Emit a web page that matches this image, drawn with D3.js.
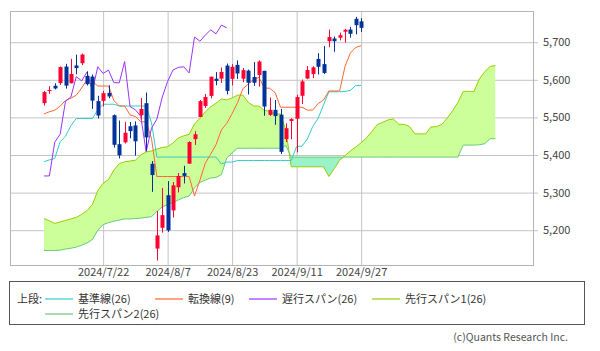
<!DOCTYPE html>
<html>
<head>
<meta charset="utf-8">
<script src="https://cdn.jsdelivr.net/npm/d3@7"></script>
<style>
  body { margin: 0; background: #fff; }
  text { font-family: "Noto Sans CJK JP", "Noto Sans", sans-serif; fill: #333; }
</style>
</head>
<body>
<svg id="chart" width="600" height="351"></svg>
<script>
// daily candles 2024/7/5 - 2024/9/27
const dates = ["2024/7/5","2024/7/8","2024/7/9","2024/7/10","2024/7/11","2024/7/12","2024/7/15","2024/7/16","2024/7/17","2024/7/18",
  "2024/7/19","2024/7/22","2024/7/23","2024/7/24","2024/7/25","2024/7/26","2024/7/29","2024/7/30","2024/7/31","2024/8/1",
  "2024/8/2","2024/8/5","2024/8/6","2024/8/7","2024/8/8","2024/8/9","2024/8/12","2024/8/13","2024/8/14","2024/8/15",
  "2024/8/16","2024/8/19","2024/8/20","2024/8/21","2024/8/22","2024/8/23","2024/8/26","2024/8/27","2024/8/28","2024/8/29",
  "2024/8/30","2024/9/3","2024/9/4","2024/9/5","2024/9/6","2024/9/9","2024/9/10","2024/9/11","2024/9/12","2024/9/13",
  "2024/9/16","2024/9/17","2024/9/18","2024/9/19","2024/9/20","2024/9/23","2024/9/24","2024/9/25","2024/9/26","2024/9/27"];
const opens = [5537.9,5572.8,5584.2,5591.3,5635.2,5590.8,5638.2,5644.1,5610.1,5608.6,
  5543.4,5544.0,5565.3,5505.8,5428.7,5433.7,5476.6,5478.7,5505.6,5537.8,
  5376.6,5151.1,5206.4,5293.1,5252.6,5314.2,5351.8,5377.0,5442.2,5501.1,
  5530.5,5557.2,5602.9,5603.1,5637.8,5602.5,5639.7,5602.9,5624.5,5607.3,
  5612.7,5623.9,5506.7,5520.1,5507.3,5442.1,5490.5,5496.4,5557.5,5603.3,
  5615.2,5655.5,5641.7,5702.6,5709.7,5711.9,5727.9,5733.7,5762.2,5755.4];
const highs = [5570.3,5583.1,5590.8,5635.4,5642.5,5655.6,5666.9,5669.7,5622.5,5614.1,
  5557.5,5570.4,5585.3,5508.0,5491.6,5488.3,5487.7,5489.5,5551.5,5566.2,
  5383.9,5250.9,5312.3,5330.6,5328.0,5351.9,5371.2,5436.5,5463.2,5546.2,
  5562.0,5608.3,5620.5,5632.7,5643.2,5641.8,5651.6,5631.2,5627.0,5647.0,
  5651.4,5623.9,5553.0,5546.3,5522.5,5484.2,5497.9,5560.4,5600.7,5636.3,
  5636.1,5670.8,5689.8,5733.6,5715.1,5725.4,5735.3,5741.0,5767.4,5763.8];
const lows = [5531.6,5562.5,5574.6,5586.4,5576.5,5590.4,5614.8,5639.0,5584.8,5522.8,
  5497.0,5529.0,5550.9,5420.0,5391.0,5430.7,5444.4,5398.3,5493.8,5410.4,
  5302.0,5119.3,5193.6,5195.5,5233.9,5300.4,5324.4,5377.0,5426.8,5501.1,
  5525.2,5550.7,5585.5,5591.6,5561.0,5585.2,5602.3,5593.5,5561.0,5583.7,
  5581.8,5504.3,5503.7,5480.2,5402.6,5434.5,5441.7,5407.0,5535.5,5601.7,
  5604.5,5614.1,5615.1,5686.4,5674.5,5705.0,5699.0,5712.1,5721.0,5727.3];
const closes = [5567.2,5572.9,5577.0,5633.9,5584.5,5615.4,5631.2,5667.2,5588.3,5544.6,
  5505.0,5564.4,5555.7,5427.1,5399.2,5459.1,5463.5,5436.4,5522.3,5446.7,
  5346.6,5186.3,5240.0,5199.5,5319.3,5344.2,5344.4,5434.4,5455.2,5543.2,
  5554.3,5608.3,5597.1,5620.9,5570.6,5634.6,5616.8,5625.8,5592.2,5592.0,
  5648.4,5528.9,5520.1,5503.4,5408.4,5471.1,5495.5,5554.1,5595.8,5626.0,
  5633.1,5634.6,5618.3,5713.6,5702.6,5718.6,5732.9,5722.3,5745.4,5738.2];

// 転換線(9)
const tenkan = [5509,5515,5519,5530,5545,5551,5559,5578,5600.7,5596.2,
  5583.4,5583.4,5583.4,5544.8,5530.3,5530.3,5506.7,5502.5,5488.2,5488.2,
  5443.7,5342.7,5342.7,5342.7,5342.7,5342.7,5342.7,5342.7,5291.2,5332.8,
  5377.8,5401.9,5427.2,5466.6,5483.8,5510.1,5539.2,5576.4,5588.4,5601.2,
  5606.3,5578.0,5577.6,5565.9,5527.1,5527.0,5527.0,5527.0,5527.0,5519.5,
  5519.5,5536.7,5546.2,5570.3,5570.3,5570.3,5635.4,5671.3,5686.0,5690.7];
// 基準線(26)
const kijun = [5382,5387,5391,5435,5450,5478,5497,5497,5497,5497,
  5520,5535,5535,5535,5530.3,5530.3,5530.3,5530.3,5530.3,5530.3,
  5485.9,5394.5,5394.5,5394.5,5394.5,5394.5,5394.5,5394.5,5394.5,5394.5,
  5394.5,5394.5,5394.5,5376.0,5381.2,5381.2,5385.4,5385.4,5385.4,5385.4,
  5385.4,5385.4,5385.4,5385.4,5385.4,5385.4,5385.4,5422.6,5423.6,5442.7,
  5476.0,5497.6,5533.4,5568.1,5568.1,5568.1,5569.0,5571.8,5585.0,5585.0];
// 先行スパン1(26), 先行スパン2(26): 85 slots incl. 25 ahead
const senkouA = [5231,5225,5218,5222,5226,5230,5234,5242,5252,5268,
  5305,5325,5335,5360,5377,5382,5384,5386,5400,5408,
  5411,5416,5420,5422,5432,5445.5,5451,5455,5482.5,5497.5,
  5514.5,5528,5537.5,5548.8,5546.6,5551.7,5559.2,5559.2,5539.9,5530.3,
  5530.3,5518.5,5516.4,5509.2,5509.2,5464.8,5368.6,5368.6,5368.6,5368.6,
  5368.6,5368.6,5368.6,5342.9,5363.6,5386.1,5398.2,5410.8,5421.3,5432.5,
  5445.7,5462.3,5480.9,5486.9,5493.3,5495.9,5481.7,5481.5,5475.7,5456.3,
  5456.2,5456.2,5474.8,5475.3,5481.1,5497.7,5517.2,5539.8,5569.2,5569.2,
  5569.2,5602.2,5621.6,5635.5,5637.9];
const senkouB = [5146,5146,5146,5147,5150,5152,5155,5160,5166,5175,
  5200,5215,5220,5224,5227,5230,5230,5231,5232,5234,
  5236,5250,5262,5268,5274,5280.5,5286.8,5290.7,5313.0,5326.8,
  5333.3,5339.0,5340.4,5347.5,5392.1,5406,5418,5418,5418,5418,
  5418,5418,5418,5418,5418,5425,5394.5,5394.5,5394.5,5394.5,
  5394.5,5394.5,5394.5,5394.5,5394.5,5394.5,5394.5,5394.5,5394.5,5394.5,
  5394.5,5394.5,5394.5,5394.5,5394.5,5394.5,5394.5,5394.5,5394.5,5394.5,
  5394.5,5394.5,5394.5,5394.5,5394.5,5394.5,5394.5,5394.5,5426.4,5426.4,
  5426.4,5427.3,5430.1,5443.3,5443.3];
const lag = 25;
const yTicks = [5200, 5300, 5400, 5500, 5600, 5700];
const xTickIdx = [11, 23, 35, 47, 59];

const legendItems = [
  { label: "基準線(26)", color: "#33cccc", x: 45, row: 0 },
  { label: "転換線(9)", color: "#ff6633", x: 155, row: 0 },
  { label: "遅行スパン(26)", color: "#9933ff", x: 249, row: 0 },
  { label: "先行スパン1(26)", color: "#99cc00", x: 372, row: 0 },
  { label: "先行スパン2(26)", color: "#66cc77", x: 45, row: 1 }
];

const frame = { left: 10, top: 11, right: 533, bottom: 265 };
const svg = d3.select("#chart");

const x = d3.scaleLinear().domain([0, 84]).range([44, 495.5]);
const y = d3.scaleLinear().domain([5200, 5700]).range([230.2, 42.2]);

// grid + right axis
const yAxis = d3.axisRight(y).tickValues(yTicks).tickFormat(d3.format(","))
  .tickSize(-(538 - frame.left)).tickPadding(5);
svg.append("g").attr("class", "y-axis")
  .attr("transform", "translate(538,0)")
  .call(yAxis)
  .call(g => g.select(".domain").remove())
  .call(g => g.selectAll("line").attr("stroke", "#c4c4c4"))
  .call(g => g.selectAll("text").attr("font-size", 11).style("fill", "#444"));

const xAxis = d3.axisBottom(x).tickValues(xTickIdx).tickFormat(i => dates[i])
  .tickSize(-(frame.bottom - frame.top)).tickPadding(3);
svg.append("g").attr("class", "x-axis")
  .attr("transform", `translate(0,${frame.bottom})`)
  .call(xAxis)
  .call(g => g.select(".domain").remove())
  .call(g => g.selectAll("line").attr("stroke", "#c4c4c4"))
  .call(g => g.selectAll("text").attr("font-size", 11).style("fill", "#444"));

// cloud
const idx = d3.range(senkouA.length);
const w = 600, h = 351;
const defs = svg.append("defs");
defs.append("clipPath").attr("id", "aboveB").append("path")
  .attr("d", d3.area().x(i => x(i)).y0(0).y1(i => y(senkouB[i]))(idx));
defs.append("clipPath").attr("id", "belowB").append("path")
  .attr("d", d3.area().x(i => x(i)).y0(h).y1(i => y(senkouB[i]))(idx));

const cloud = d3.area().x(i => x(i)).y0(i => y(senkouB[i])).y1(i => y(senkouA[i]));
svg.append("path").attr("d", cloud(idx)).attr("fill", "#ccff99").attr("clip-path", "url(#aboveB)");
svg.append("path").attr("d", cloud(idx)).attr("fill", "#99f2c8").attr("clip-path", "url(#belowB)");

const line = d3.line().x((d, i) => x(i)).y(d => y(d));
function drawLine(values, color) {
  svg.append("path").datum(values)
    .attr("d", line)
    .attr("fill", "none")
    .attr("stroke", color)
    .attr("stroke-width", 1);
}
drawLine(senkouA, "#99cc00");
drawLine(senkouB, "#66cc77");
drawLine(kijun, "#33cccc");
drawLine(tenkan, "#ff6633");
drawLine(closes.slice(lag), "#9933ff");

// candles
const candles = svg.append("g").selectAll("g").data(d3.range(dates.length)).join("g");
const col = i => closes[i] >= opens[i] ? "#ff0033" : "#003399";
candles.append("line")
  .attr("x1", i => Math.round(x(i)) + 0.5).attr("x2", i => Math.round(x(i)) + 0.5)
  .attr("y1", i => y(highs[i])).attr("y2", i => y(lows[i]))
  .attr("stroke", col);
candles.append("rect")
  .attr("x", i => Math.round(x(i)) - 1.5)
  .attr("width", 4)
  .attr("y", i => y(Math.max(opens[i], closes[i])))
  .attr("height", i => Math.max(1, Math.abs(y(opens[i]) - y(closes[i]))))
  .attr("fill", col);

// frame
svg.append("rect")
  .attr("x", frame.left + 0.5).attr("y", frame.top + 0.5)
  .attr("width", frame.right - frame.left).attr("height", frame.bottom - frame.top)
  .attr("fill", "none").attr("stroke", "#b4b4b4");

// legend
svg.append("rect").attr("x", 9.5).attr("y", 281.5).attr("width", 575).attr("height", 43)
  .attr("fill", "none").attr("stroke", "#555");
svg.append("text").attr("x", 17).attr("y", 303).attr("font-size", 11).text("上段:");
const lg = svg.append("g").selectAll("g").data(legendItems).join("g")
  .attr("transform", d => `translate(${d.x},${299 + d.row * 15})`);
lg.append("line").attr("x1", 0).attr("x2", 28).attr("stroke", d => d.color).attr("stroke-width", 1.2);
lg.append("text").attr("x", 33).attr("y", 4).attr("font-size", 11).text(d => d.label);

svg.append("text").attr("x", 568).attr("y", 341).attr("text-anchor", "end")
  .attr("font-size", 10.5).style("fill", "#555").text("(c)Quants Research Inc.");
</script>
</body>
</html>
